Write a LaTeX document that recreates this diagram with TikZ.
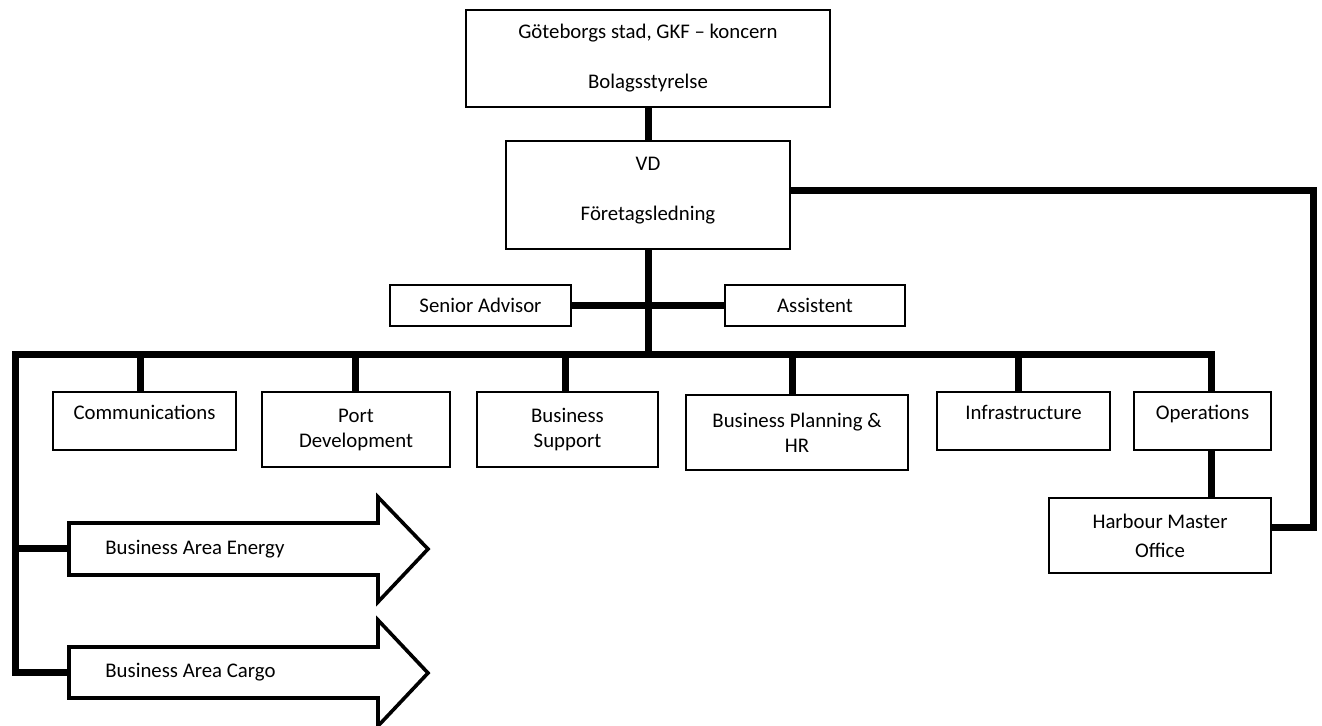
\documentclass[tikz,border=0pt]{standalone}
\usepackage{fontspec}
\setmainfont{Carlito}
\begin{document}
\begin{tikzpicture}[x=0.5pt,y=-0.5pt,
  box/.style={draw,line width=0.8pt,fill=white,inner sep=0pt,align=center,
    font=\fontsize{10.4}{12.5}\selectfont},
  conn/.style={line width=3.5pt},
  barrow/.style={draw,line width=1.8pt,fill=white,line join=miter},
  lbl/.style={inner sep=0pt,anchor=west,font=\fontsize{10.4}{12.5}\selectfont}]
\useasboundingbox (0,0) rectangle (1322,725);
% boxes
\node[box,minimum width=182pt,minimum height=48.5pt] (top) at (648,58.5)
  {Göteborgs stad, GKF – koncern\\[12.5pt]Bolagsstyrelse};
\node[box,minimum width=142pt,minimum height=54pt,text depth=6pt] (vd) at (648,195)
  {VD\\[12.5pt]Företagsledning};
\node[box,minimum width=90.5pt,minimum height=20.5pt] (senior) at (480.5,305.5) {Senior Advisor};
\node[box,minimum width=90pt,minimum height=20.5pt] (assist) at (815,305.5) {Assistent};
\node[box,minimum width=91.5pt,minimum height=29pt,text depth=9pt] (comm) at (144.5,421) {Communications};
\node[box,minimum width=94pt,minimum height=37.5pt] (port) at (356,429.5) {Port\\Development};
\node[box,minimum width=90.5pt,minimum height=37.5pt] (bsup) at (567.5,429.5) {Business\\Support};
\node[box,minimum width=111pt,minimum height=37.5pt] (bplan) at (797,432.5) {Business Planning \&\\HR};
\node[box,minimum width=86.5pt,minimum height=29pt,text depth=9pt] (infra) at (1023.5,421) {Infrastructure};
\node[box,minimum width=68.5pt,minimum height=29pt,text depth=9pt] (ops) at (1202.5,421) {Operations};
\node[box,minimum width=111pt,minimum height=37.5pt,font=\fontsize{10.4}{14.5}\selectfont] (hmo) at (1160,535.5) {Harbour Master\\Office};
% coordinates
\coordinate (busL) at (15,354);
\coordinate (busC) at (647,354);
\coordinate (busR) at (1211,354);
\coordinate (r1) at (1313,190);
\coordinate (r2) at (1313,527);
\coordinate (c1) at (140,354);
\coordinate (c2) at (355,354);
\coordinate (c3) at (565,354);
\coordinate (c4) at (792,354);
\coordinate (c5) at (1018,354);
\coordinate (energy) at (69,548);
\coordinate (cargo) at (69,672);
% connectors
\begin{scope}[on background layer/.style={}]
\draw[conn] (top.south) -- (vd.north);
\draw[conn] (vd.south) -- (vd.south |- busC);
\draw[conn] (senior.east) -- (assist.west);
\draw[conn] (cargo) -| (busL) -- (busR) -- (busR |- ops.north);
\draw[conn] (energy -| busL) -- (energy);
\draw[conn] (c1) -- (c1 |- comm.north);
\draw[conn] (c2) -- (c2 |- port.north);
\draw[conn] (c3) -- (c3 |- bsup.north);
\draw[conn] (c4) -- (c4 |- bplan.north);
\draw[conn] (c5) -- (c5 |- infra.north);
\draw[conn] (busR |- ops.south) -- (busR |- hmo.north);
\draw[conn] (vd.east |- r1) -- (r1) -- (r2) -- (hmo.east |- r2);
\end{scope}
% block arrows
\draw[barrow] (69,523) -- (378,523) -- (378,497) -- (428,549) -- (378,602) -- (378,575) -- (69,575) -- cycle;
\draw[barrow] (69,647) -- (378,647) -- (378,620) -- (428,673) -- (378,726) -- (378,698) -- (69,698) -- cycle;
\node[lbl] (energyl) at (105,549) {Business Area Energy};
\node[lbl] (cargol) at (105,672) {Business Area Cargo};
\end{tikzpicture}
\end{document}
